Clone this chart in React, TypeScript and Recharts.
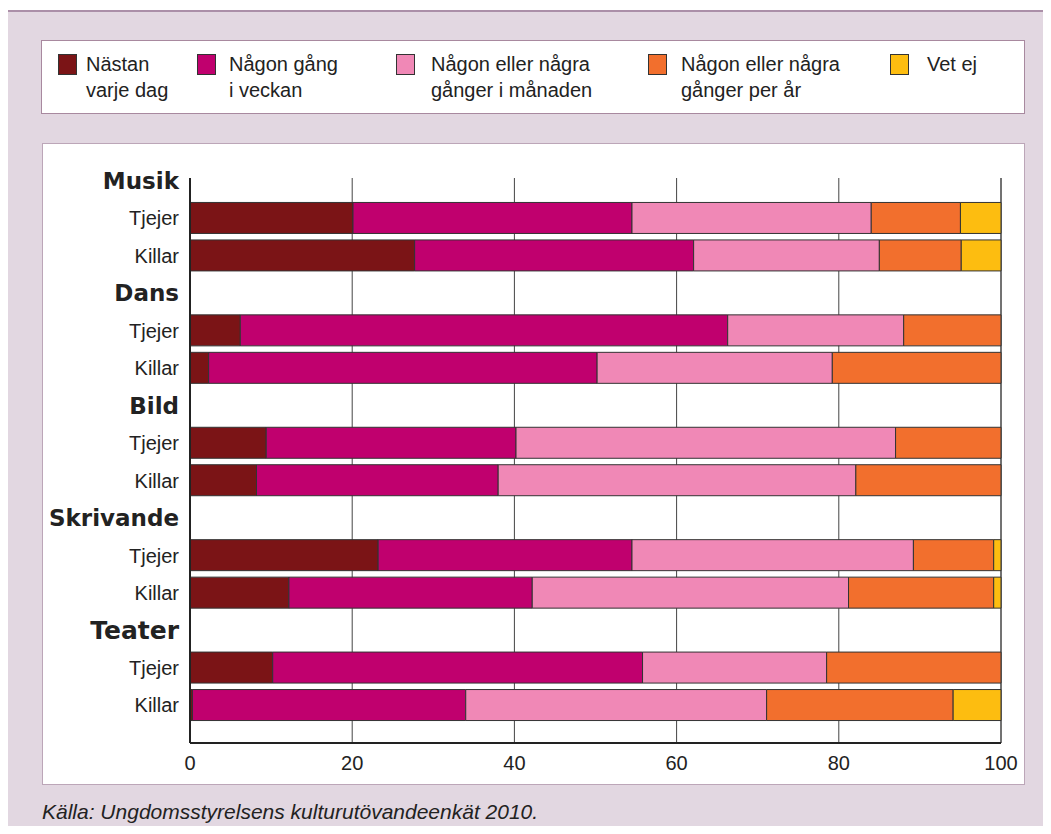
import { BarChart, Bar, XAxis, YAxis, CartesianGrid } from 'recharts';

const groups = ['Musik', 'Dans', 'Bild', 'Skrivande', 'Teater'];
const genders = ['Tjejer', 'Killar'];

const seriesNames = [
  'Nästan varje dag',
  'Någon gång i veckan',
  'Någon eller några gånger i månaden',
  'Någon eller några gånger per år',
  'Vet ej',
];
const legendLines = [
  ['Nästan', 'varje dag'],
  ['Någon gång', 'i veckan'],
  ['Någon eller några', 'gånger i månaden'],
  ['Någon eller några', 'gånger per år'],
  ['Vet ej'],
];
const colors = ['#7b1416', '#c0006e', '#f088b6', '#f26f2d', '#fdbd10'];

// order: Musik T, Musik K, Dans T, Dans K, Bild T, Bild K, Skrivande T, Skrivande K, Teater T, Teater K
const nastanVarjeDag = [20.1, 27.7, 6.2, 2.3, 9.4, 8.2, 23.2, 12.2, 10.2, 0.3];
const ngnGangVeckan = [34.4, 34.4, 60.1, 47.9, 30.8, 29.8, 31.3, 30.0, 45.6, 33.7];
const gangerManaden = [29.5, 22.9, 21.7, 29.0, 46.8, 44.1, 34.7, 39.0, 22.7, 37.1];
const gangerPerAr = [11.0, 10.1, 12.0, 20.8, 13.0, 17.9, 9.9, 17.9, 21.5, 23.0];
const vetEj = [5.0, 4.9, 0, 0, 0, 0, 0.9, 0.9, 0, 5.9];

const xTicks = [0, 20, 40, 60, 80, 100];

const seriesValues = [nastanVarjeDag, ngnGangVeckan, gangerManaden, gangerPerAr, vetEj];

type Row = { key: string; label: string; header: boolean; [k: string]: string | number | boolean };

const rows: Row[] = [];
groups.forEach((g, gi) => {
  rows.push({ key: g, label: g, header: true });
  genders.forEach((sex, si) => {
    const idx = gi * 2 + si;
    const row: Row = { key: `${g}-${sex}`, label: sex, header: false };
    seriesValues.forEach((vals, k) => {
      row[`s${k}`] = vals[idx];
    });
    rows.push(row);
  });
});

const CategoryTick = (props: any) => {
  const { x, y, payload } = props;
  const row = rows.find((r) => r.key === payload.value);
  if (!row) return null;
  if (row.header) {
    return (
      <text
        x={x}
        y={y}
        dy="0.36em"
        textAnchor="end"
        fontFamily="'DejaVu Sans', Verdana, sans-serif"
        fontWeight="bold"
        fontSize={row.label === 'Teater' ? 25 : 23}
        fill="#222"
      >
        {row.label}
      </text>
    );
  }
  return (
    <text
      x={x}
      y={y}
      dy="0.36em"
      textAnchor="end"
      fontFamily="'Liberation Sans', Arial, sans-serif"
      fontSize={20}
      fill="#222"
    >
      {row.label}
    </text>
  );
};

// legend layout (px from the legend box's left edge)
const legendSwatchLeft = [16, 155, 354, 606, 848];
const legendTextGap = [9, 13, 16, 14, 18];

export default function App() {
  return (
    <div
      style={{
        position: 'relative',
        margin: -8,
        width: 1051,
        height: 834,
        overflow: 'hidden',
        background: '#fff',
        fontFamily: "'Liberation Sans', Arial, sans-serif",
        color: '#222',
      }}
    >
      <div
        style={{
          position: 'absolute',
          left: 5,
          top: 10,
          right: -4,
          bottom: -4,
          background: '#e2d7e1',
          borderLeft: '2px solid #ab8fa8',
          borderTop: '2px solid #ab8fa8',
        }}
      />

      {/* legend */}
      <div
        style={{
          position: 'absolute',
          left: 41,
          top: 40,
          width: 984,
          height: 74,
          background: '#fff',
          border: '1px solid #a8899f',
          boxSizing: 'border-box',
        }}
      >
        {seriesNames.map((name, i) => (
          <div key={name} style={{ position: 'absolute', left: legendSwatchLeft[i], top: 13, display: 'flex' }}>
            <div
              style={{
                width: 19,
                height: 21,
                background: colors[i],
                border: '1px solid #333',
                boxSizing: 'border-box',
                flexShrink: 0,
              }}
            />
            <div style={{ marginLeft: legendTextGap[i], fontSize: 20, lineHeight: '26px', marginTop: -3, whiteSpace: 'nowrap' }}>
              {legendLines[i].map((l) => (
                <div key={l}>{l}</div>
              ))}
            </div>
          </div>
        ))}
      </div>

      {/* chart box */}
      <div
        style={{
          position: 'absolute',
          left: 42,
          top: 143,
          width: 983,
          height: 642,
          background: '#fff',
          border: '1px solid #bca6b8',
          boxSizing: 'border-box',
        }}
      />
      <div style={{ position: 'absolute', left: 42, top: 143 }}>
        <BarChart
          width={983}
          height={642}
          data={rows}
          layout="vertical"
          barSize={31}
          margin={{ top: 35, right: 24, bottom: 12, left: 0 }}
        >
          <CartesianGrid horizontal={false} stroke="#444" strokeWidth={1} />
          <XAxis
            type="number"
            domain={[0, 100]}
            ticks={xTicks}
            interval={0}
            height={30}
            axisLine={{ stroke: '#222', strokeWidth: 2 }}
            tickLine={false}
            tickSize={0}
            tickMargin={13}
            tick={{ fill: '#222', fontSize: 20, fontFamily: "'Liberation Sans', Arial, sans-serif" }}
          />
          <YAxis
            type="category"
            dataKey="key"
            width={148}
            interval={0}
            axisLine={{ stroke: '#222', strokeWidth: 2 }}
            tickLine={false}
            tickSize={0}
            tickMargin={11}
            padding={{ top: -16, bottom: 19 }}
            tick={<CategoryTick />}
          />
          {seriesNames.map((name, i) => (
            <Bar
              key={name}
              dataKey={`s${i}`}
              name={name}
              stackId="a"
              fill={colors[i]}
              stroke="#333"
              strokeWidth={1}
              isAnimationActive={false}
            />
          ))}
        </BarChart>
      </div>

      <div
        style={{
          position: 'absolute',
          left: 42,
          top: 800,
          fontSize: 21,
          fontStyle: 'italic',
          color: '#222',
        }}
      >
        Källa: Ungdomsstyrelsens kulturutövandeenkät 2010.
      </div>
    </div>
  );
}
